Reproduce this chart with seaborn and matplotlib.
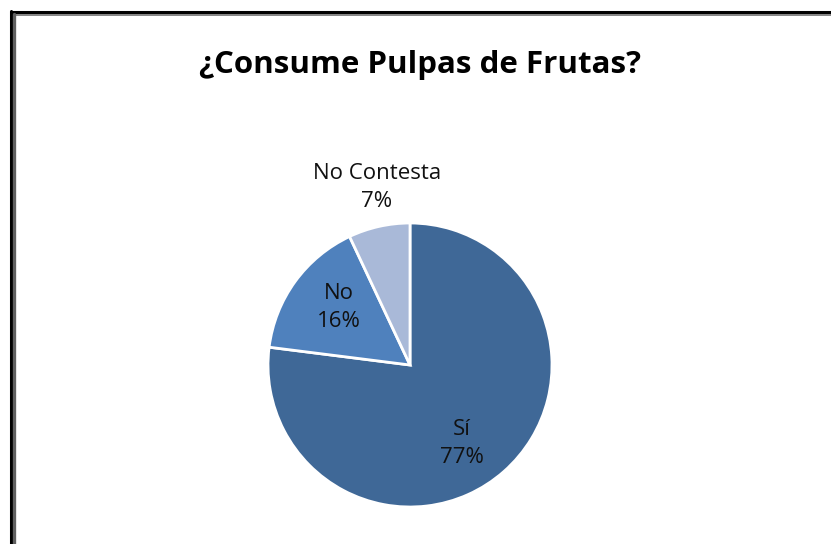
import matplotlib
matplotlib.use("Agg")
import matplotlib.pyplot as plt
import seaborn as sns
import numpy as np
from matplotlib.lines import Line2D

sns.set_theme(style="white")
plt.rcParams['font.family'] = ['Open Sans', 'DejaVu Sans']

title = "¿Consume Pulpas de Frutas?"
categories = ["Sí", "No", "No Contesta"]
values = [77, 16, 7]
colors = ["#3F6897", "#4F81BD", "#A9B9D8"]
label_dist = [0.66, 0.64, 1.27]
label_rot = [-8, -3, -2]  # small angular nudges (deg) for label placement

W, H = 831, 544
fig = plt.figure(figsize=(W / 100, H / 100), dpi=100)
fig.patch.set_facecolor("white")

cx, cy, r = 410, 365, 142
ax = fig.add_axes([(cx - r) / W, (H - cy - r) / H, 2 * r / W, 2 * r / H])
wedges, _ = ax.pie(values, colors=colors, startangle=90, counterclock=False,
                   radius=1.0,
                   wedgeprops=dict(edgecolor="white", linewidth=2))
ax.set_xlim(-1.0, 1.0)
ax.set_ylim(-1.0, 1.0)
ax.set_aspect("equal")
ax.axis("off")

for w, cat, v, d, dr in zip(wedges, categories, values, label_dist, label_rot):
    ang = np.deg2rad((w.theta1 + w.theta2) / 2 + dr)
    x, y = d * np.cos(ang), d * np.sin(ang)
    ax.text(x, y, f"{cat}\n{v}%", ha="center", va="center", fontsize=16,
            color="#111111", linespacing=1.45, clip_on=False)

fig.text(0.506, 1 - 65 / H, title, ha="center", va="center",
         fontsize=22.5, fontweight="bold", color="black")

# frame lines (top and left)
fig.add_artist(Line2D([10.5 / W, 1], [1 - 12 / H, 1 - 12 / H], color="black", lw=2.2, transform=fig.transFigure))
fig.add_artist(Line2D([13 / W, 1], [1 - 14.5 / H, 1 - 14.5 / H], color="#707070", lw=1.2, transform=fig.transFigure))
fig.add_artist(Line2D([11 / W, 11 / W], [0, 1 - 11 / H], color="black", lw=2.2, transform=fig.transFigure))
fig.add_artist(Line2D([14 / W, 14 / W], [0, 1 - 14 / H], color="#606060", lw=2.4, transform=fig.transFigure))

fig.savefig("out.png", dpi=100, facecolor="white")
